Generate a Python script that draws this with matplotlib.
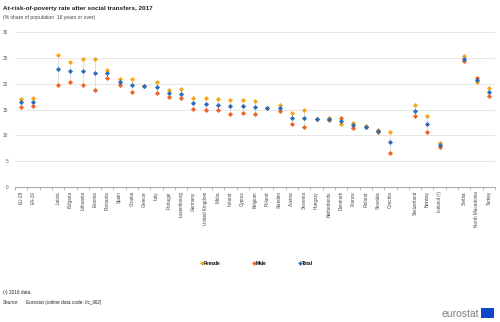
import matplotlib
matplotlib.use('Agg')
import matplotlib.pyplot as plt
import numpy as np

plt.rcParams['font.family'] = ['Liberation Sans', 'DejaVu Sans']

TITLE = 'At-risk-of-poverty rate after social transfers, 2017'
SUBTITLE = '(% share of population  16 years or over)'
OUTPUT_FILE = 'out.png'

# '' marks an empty slot between country groups
countries = ['EU-28', 'EA-19', '',
             'Latvia', 'Bulgaria', 'Lithuania', 'Estonia', 'Romania', 'Spain', 'Croatia',
             'Greece', 'Italy', 'Portugal', 'Luxembourg', 'Germany', 'United Kingdom',
             'Malta', 'Ireland', 'Cyprus', 'Belgium', 'Poland', 'Sweden', 'Austria',
             'Slovenia', 'Hungary', 'Netherlands', 'Denmark', 'France', 'Finland',
             'Slovakia', 'Czechia', '',
             'Switzerland', 'Norway', 'Iceland (¹)', '',
             'Serbia', 'North Macedonia', 'Turkey']

female = [17.1, 17.2, None,
          25.5, 24.2, 24.8, 24.8, 22.7, 21.0, 20.9,
          19.6, 20.4, 18.7, 19.0, 17.3, 17.3,
          17.0, 16.9, 16.8, 16.6, 15.4, 15.9, 14.4,
          14.9, 13.2, 13.3, 12.2, 12.4, 11.8,
          11.1, 10.6, None,
          15.9, 13.7, 8.6, None,
          25.3, 20.3, 19.1]

male = [15.5, 15.6, None,
        19.7, 20.4, 19.7, 18.8, 21.1, 19.7, 18.4,
        19.5, 18.2, 17.5, 17.2, 15.2, 15.0,
        14.9, 14.2, 14.4, 14.2, 15.4, 14.8, 12.2,
        11.7, 13.1, 13.0, 13.3, 11.5, 11.6,
        10.6, 6.5, None,
        13.7, 10.6, 7.8, None,
        24.4, 21.2, 17.7]

total = [16.4, 16.4, None,
         22.9, 22.4, 22.4, 22.1, 22.0, 20.4, 19.7,
         19.5, 19.3, 18.3, 18.1, 16.2, 16.1,
         15.9, 15.7, 15.7, 15.5, 15.4, 15.3, 13.4,
         13.3, 13.1, 13.2, 12.8, 12.0, 11.7,
         10.9, 8.7, None,
         14.8, 12.2, 8.1, None,
         24.8, 20.8, 18.4]

COLORS = {'Female': '#FAA519', 'Male': '#F06423', 'Total': '#2A6EBB'}


def to_array(values):
    return np.array([np.nan if v is None else v for v in values], dtype=float)


fig = plt.figure(figsize=(5.0, 3.22), dpi=100)
ax = fig.add_axes([0.03, 0.419, 0.96, 0.4814])

x = np.arange(len(countries))
f = to_array(female)
m = to_array(male)
t = to_array(total)

# thin range line per country
lo = np.nanmin(np.vstack([f, m, t]), axis=0)
hi = np.nanmax(np.vstack([f, m, t]), axis=0)
ax.vlines(x, lo, hi, color='#d9d9d9', linewidth=0.6, zorder=1)

ax.plot(x, f, 'D', color=COLORS['Female'], markersize=2.6, markeredgewidth=0, zorder=3, label='Female')
ax.plot(x, m, 'D', color=COLORS['Male'], markersize=2.6, markeredgewidth=0, zorder=3, label='Male')
ax.plot(x, t, 'D', color=COLORS['Total'], markersize=2.6, markeredgewidth=0, zorder=4, label='Total')

ax.set_xlim(-0.5, len(countries) - 0.5)
ax.set_ylim(0, 30)
ax.set_yticks(np.arange(0, 31, 5))
ax.yaxis.grid(True, color='#e3e3e3', linewidth=0.6)
ax.set_axisbelow(True)
ax.tick_params(axis='y', length=0, labelsize=3.4, labelcolor='#555555', pad=5)

ax.set_xticks(x)
ax.set_xticklabels(countries, rotation=90, fontsize=3.3, color='#444444')
ax.tick_params(axis='x', length=0, pad=3)
ax.set_xticks(np.arange(-0.5, len(countries), 1), minor=True)
ax.tick_params(axis='x', which='minor', length=2, color='#999999', width=0.5)

for side in ['left', 'right', 'top']:
    ax.spines[side].set_visible(False)
ax.spines['bottom'].set_color('#999999')
ax.spines['bottom'].set_linewidth(0.6)

fig.text(0.006, 0.980, TITLE, fontsize=4.6, fontweight='bold', va='top', color='#222222')
fig.text(0.006, 0.952, SUBTITLE, fontsize=3.6, va='top', color='#444444')

leg = fig.legend(loc='center', bbox_to_anchor=(0.513, 0.183), ncol=3, frameon=False,
                 prop={'size': 3.4, 'weight': 'bold'}, columnspacing=6.6, handletextpad=0.1,
                 handlelength=0.8, markerscale=0.9)

fig.text(0.006, 0.093, '(¹) 2016 data.', fontsize=3.4, va='center', color='#222222')
fig.text(0.006, 0.062, 'Source:', fontsize=3.4, va='center', style='italic', color='#222222')
fig.text(0.052, 0.062, 'Eurostat (online data code: ilc_li02)', fontsize=3.4, va='center', color='#222222')

# eurostat logo
fig.text(0.958, 0.025, 'eurostat', fontsize=7.5, ha='right', va='center', color='#7f7f7f')
fig.patches.append(plt.Rectangle((0.962, 0.012), 0.026, 0.033, transform=fig.transFigure,
                                 facecolor='#0E47CB', edgecolor='none'))

fig.savefig(OUTPUT_FILE, dpi=100)
plt.close(fig)
